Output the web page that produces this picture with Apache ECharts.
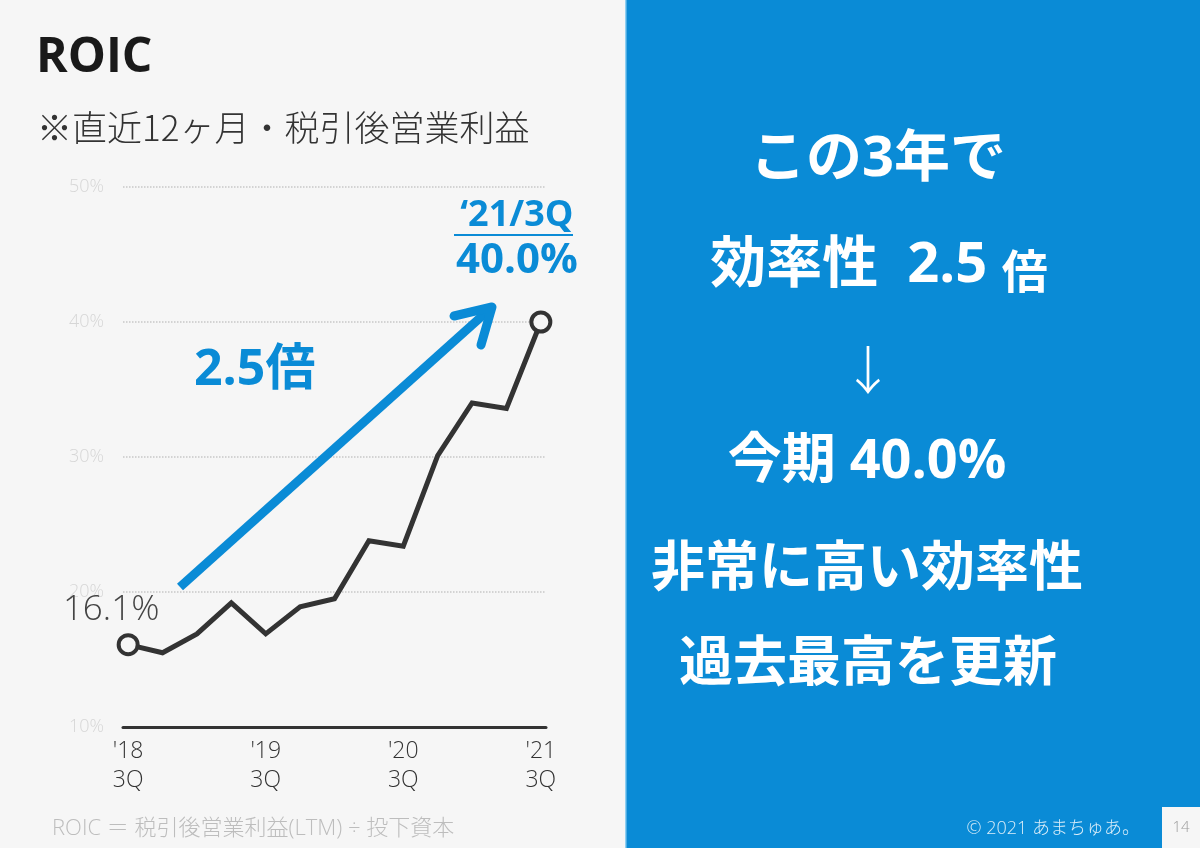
<!DOCTYPE html>
<html>
<head>
<meta charset="utf-8">
<script src="https://cdn.jsdelivr.net/npm/echarts@6/dist/echarts.min.js"></script>
<style>
  html, body { margin: 0; padding: 0; background: #f6f6f6; }
  #chart { width: 1200px; height: 848px; }
</style>
</head>
<body>
<div id="chart"></div>
<script>
// ---- data ----
const quarters = ["'18 3Q", "'18 4Q", "'19 1Q", "'19 2Q", "'19 3Q", "'19 4Q", "'20 1Q", "'20 2Q", "'20 3Q", "'20 4Q", "'21 1Q", "'21 2Q", "'21 3Q"];
const roic = [16.1, 15.5, 16.9, 19.2, 16.9, 18.9, 19.5, 23.8, 23.4, 30.1, 34.0, 33.6, 40.0];
const xTickIndex = [0, 4, 8, 12];
const xTickLabels = ["'18\n3Q", "'19\n3Q", "'20\n3Q", "'21\n3Q"];
const yTicks = [10, 20, 30, 40, 50];
const title = 'ROIC';
const subtitle = '※直近12ヶ月・税引後営業利益';
const footnote = 'ROIC ＝ 税引後営業利益(LTM) ÷ 投下資本';
const growthLabel = '2.5倍';
const lastLabel = '‘21/3Q';
const panelLines = ['この3年で', '効率性  2.5 ', '倍', '↓', '今期 40.0%', '非常に高い効率性', '過去最高を更新'];
const copyright = '© 2021 あまちゅあ。';
const pageNo = '14';

const BLUE = '#0a8bd6';
const FONT = "'Open Sans', 'Noto Sans CJK JP', sans-serif";
const JP = "'Noto Sans CJK JP', 'Open Sans', sans-serif";

const chart = echarts.init(document.getElementById('chart'), null, { renderer: 'canvas' });
const last = roic.length - 1;

const option = {
  backgroundColor: '#f6f6f6',
  animation: false,
  grid: { left: 123, right: 654, top: 187, bottom: 121, containLabel: false },
  xAxis: {
    type: 'value',
    min: -0.15,
    max: last + 0.15,
    splitLine: { show: false },
    axisTick: { show: false },
    axisLine: { show: true, onZero: false, lineStyle: { color: '#333', width: 3 } },
    axisLabel: {
      customValues: xTickIndex,
      formatter: function (v) { const k = xTickIndex.indexOf(Math.round(v)); return k >= 0 ? xTickLabels[k] : ''; },
      color: '#333', fontFamily: FONT, fontWeight: 300, fontSize: 23, lineHeight: 29, margin: 10
    }
  },
  yAxis: {
    type: 'value',
    min: yTicks[0], max: yTicks[yTicks.length - 1], interval: 10,
    axisLine: { show: false }, axisTick: { show: false },
    axisLabel: { formatter: '{value}%', color: '#d6d6d6', fontFamily: FONT, fontWeight: 300, fontSize: 18, margin: 19 },
    splitLine: { show: true, lineStyle: { color: '#c8c8c8', type: 'dotted', width: 1.5 } }
  },
  series: [{
    type: 'line',
    data: roic.map(function (v, i) {
      const item = { value: [i, v] };
      if (i === 0) {
        item.label = { show: true, position: 'top', distance: 6, offset: [-17, 0],
          formatter: function (p) { return p.value[1].toFixed(1) + '%'; },
          color: '#444', fontFamily: FONT, fontWeight: 300, fontSize: 35 };
      }
      if (i === last) {
        item.label = { show: true, position: 'top', distance: 26, offset: [-24, 0],
          formatter: function (p) { return '{a|' + lastLabel + '}\n{b|' + p.value[1].toFixed(1) + '%}'; },
          rich: {
            a: { color: BLUE, fontFamily: FONT, fontWeight: 'bold', fontSize: 36, lineHeight: 46, align: 'center' },
            b: { color: BLUE, fontFamily: FONT, fontWeight: 'bold', fontSize: 42, lineHeight: 46, align: 'center' }
          } };
      }
      return item;
    }),
    showSymbol: true,
    symbol: 'circle',
    symbolSize: function (val, p) { return (p.dataIndex === 0 || p.dataIndex === last) ? 19 : 0; },
    itemStyle: { color: '#f6f6f6', borderColor: '#333', borderWidth: 4 },
    lineStyle: { color: '#333', width: 5, join: 'miter' },
    z: 5
  }],
  graphic: [
    { type: 'rect', shape: { x: 626, y: 0, width: 574, height: 848 }, style: { fill: BLUE }, z: -1 },
    { type: 'rect', shape: { x: 625, y: 0, width: 1.5, height: 848 }, style: { fill: '#8fd0f2' }, z: -1 },
    { type: 'rect', shape: { x: 1162, y: 807, width: 38, height: 41 }, style: { fill: '#f6f6f6' } },
    { type: 'text', x: 1181, y: 828, style: { text: pageNo, fill: '#9a9a9a', font: '300 15px ' + FONT, textAlign: 'center', textVerticalAlign: 'middle' } },
    { type: 'text', x: 1140, y: 829, style: { text: copyright, fill: 'rgba(255,255,255,0.85)', font: '300 18px ' + FONT, textAlign: 'right', textVerticalAlign: 'middle' } },
    { type: 'text', x: 36, y: 58, style: { text: title, fill: '#1a1a1a', font: 'bold 48px ' + FONT, textVerticalAlign: 'middle' } },
    { type: 'text', x: 37, y: 128, style: { text: subtitle, fill: '#333', font: '300 35px ' + JP, textVerticalAlign: 'middle' } },
    { type: 'text', x: 52, y: 829, style: { text: footnote, fill: '#bdbdbd', font: '300 22px ' + FONT, textVerticalAlign: 'middle' } },
    // growth arrow
    { type: 'line', shape: { x1: 180, y1: 587, x2: 491, y2: 308 }, style: { stroke: BLUE, lineWidth: 9, lineCap: 'butt' }, z: 3 },
    { type: 'polyline', shape: { points: [[454, 316], [492, 307], [481, 345]] }, style: { stroke: BLUE, lineWidth: 9, fill: null, lineJoin: 'round', lineCap: 'round' }, z: 3 },
    { type: 'text', x: 194, y: 371, style: { text: growthLabel, fill: BLUE, font: 'bold 50px ' + FONT, textVerticalAlign: 'middle' }, z: 3 },
    // underline of '21/3Q
    { type: 'line', shape: { x1: 454, y1: 235, x2: 573, y2: 235 }, style: { stroke: BLUE, lineWidth: 2 } },
    // right panel
    { type: 'text', x: 878, y: 160, style: { text: panelLines[0], fill: '#fff', font: 'bold 56px ' + FONT, textAlign: 'center', textVerticalAlign: 'middle' } },
    { type: 'text', x: 879, y: 266, style: { text: '{a|' + panelLines[1] + '}{b|' + panelLines[2] + '}', fill: '#fff', textAlign: 'center', textVerticalAlign: 'middle',
        rich: { a: { fill: '#fff', fontFamily: FONT, fontWeight: 'bold', fontSize: 56, verticalAlign: 'bottom' }, b: { fill: '#fff', fontFamily: JP, fontWeight: 'bold', fontSize: 46, verticalAlign: 'bottom' } } } },
    { type: 'text', x: 868, y: 370, style: { text: panelLines[3], fill: '#fff', font: '200 52px ' + JP, textAlign: 'center', textVerticalAlign: 'middle' } },
    { type: 'text', x: 867, y: 463, style: { text: panelLines[4], fill: '#fff', font: 'bold 54px ' + FONT, textAlign: 'center', textVerticalAlign: 'middle' } },
    { type: 'text', x: 867, y: 565, style: { text: panelLines[5], fill: '#fff', font: 'bold 54px ' + JP, textAlign: 'center', textVerticalAlign: 'middle' } },
    { type: 'text', x: 868, y: 660, style: { text: panelLines[6], fill: '#fff', font: 'bold 54px ' + JP, textAlign: 'center', textVerticalAlign: 'middle' } }
  ]
};
chart.setOption(option);
</script>
</body>
</html>
